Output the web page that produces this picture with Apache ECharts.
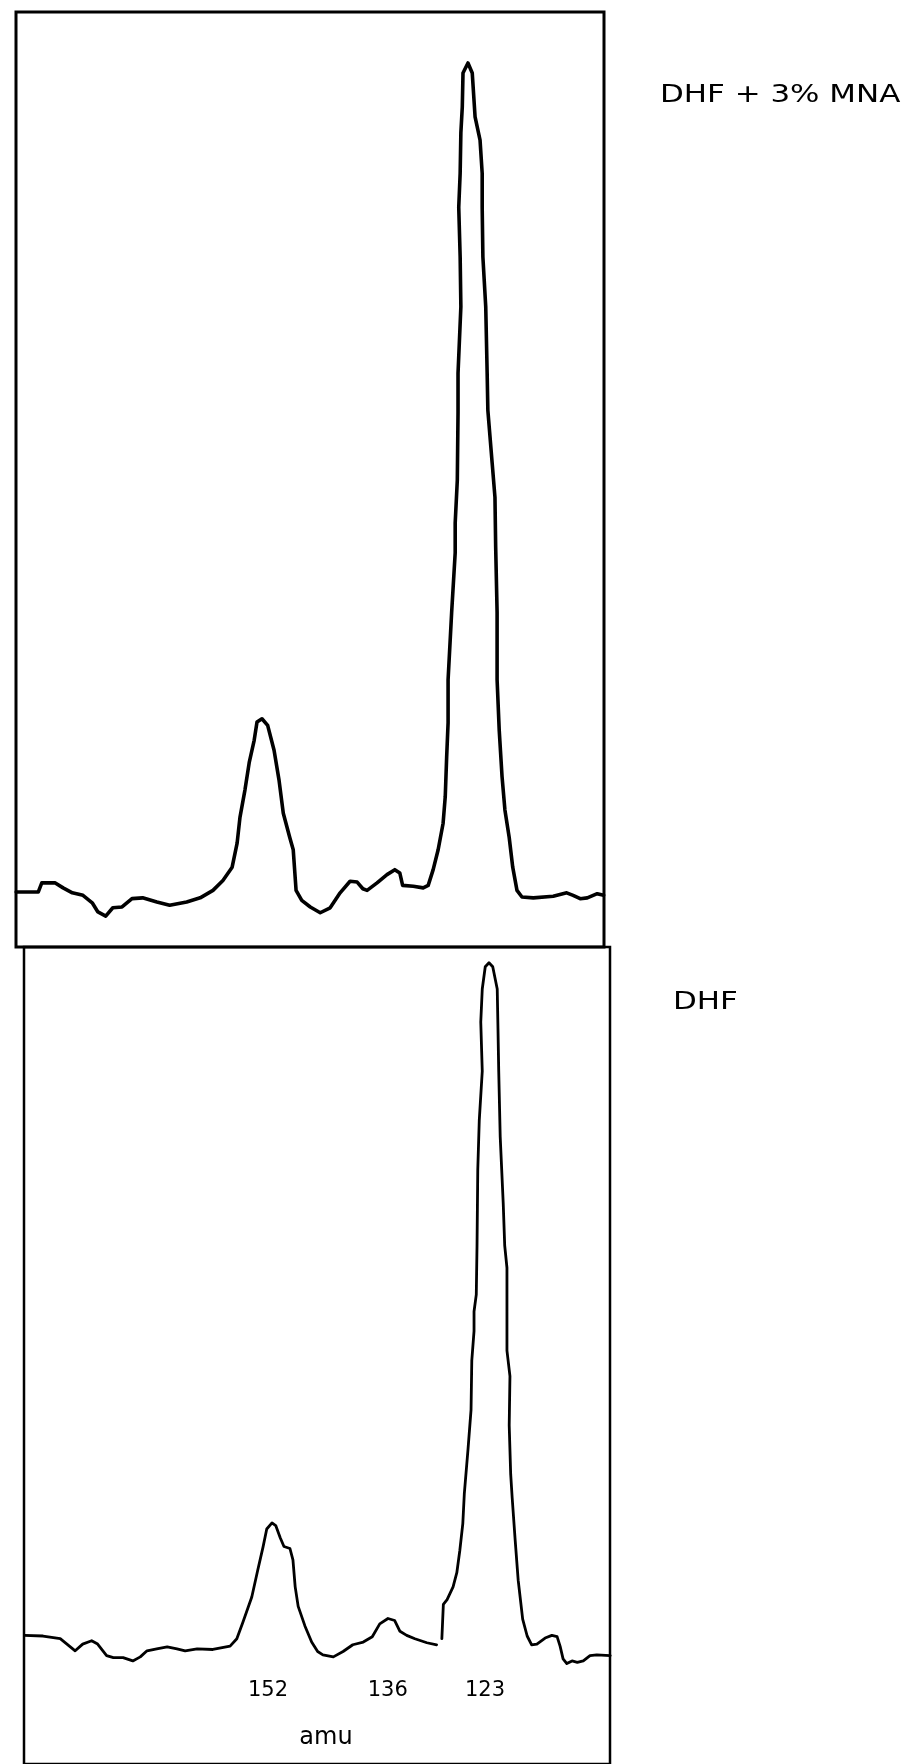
<!DOCTYPE html>
<html>
<head>
<meta charset="utf-8">
<script src="https://cdn.jsdelivr.net/npm/echarts@6/dist/echarts.min.js"></script>
<style>
  html, body { margin: 0; padding: 0; background: #fff; }
  #chart { width: 908px; height: 1764px; }
</style>
</head>
<body>
<div id="chart"></div>
<script>
// Mass spectrum traces: [mass (amu), relative intensity, 123 peak = 100]
// Upper trace: DHF + 3% MNA
const traceMixture = [
  [186.6,0],[183.5,0],[183.0,1.1],[181.1,1.1],[180.0,0.5],[178.7,-0.1],[177.2,-0.4],
  [175.9,-1.3],[175.1,-2.4],[174.0,-2.9],[173.0,-1.9],[171.7,-1.8],[170.3,-0.8],
  [168.8,-0.7],[166.8,-1.2],[165.0,-1.6],[162.6,-1.2],[160.7,-0.7],[158.9,0.2],
  [157.5,1.4],[156.2,3.0],[155.5,5.9],[155.1,9.0],[154.4,12.3],[153.8,15.6],
  [153.1,18.3],[152.7,20.5],[152.0,20.9],[151.2,20.1],[150.3,17.1],[149.6,13.5],
  [149.0,9.5],[148.1,6.6],[147.6,5.1],[147.2,0.2],[146.4,-1.0],[145.2,-1.8],
  [143.8,-2.5],[142.4,-1.9],[141.0,-0.1],[139.6,1.3],[138.6,1.2],[137.8,0.4],
  [137.2,0.2],[135.8,1.1],[134.4,2.1],[133.3,2.7],[132.6,2.3],[132.2,0.8],
  [130.7,0.7],[129.3,0.5],[128.6,0.8],[127.9,2.7],[127.2,5.1],[126.5,8.3],
  [126.2,11.5],[126.0,16.3],[125.8,20.4],[125.8,24.4],[125.8,25.6],[125.3,33.7],
  [124.8,40.9],[124.8,44.5],[124.5,49.7],[124.4,57.8],[124.4,60.6],[124.4,62.6],
  [124.0,70.6],[124.1,76.6],[124.3,82.6],[124.1,86.7],[124.0,91.6],[123.8,94.7],
  [123.7,98.8],[123.0,100],[122.4,98.8],[122.0,93.5],[121.3,90.7],[121.0,86.7],
  [121.0,82.6],[120.9,76.6],[120.5,70.6],[120.3,62.6],[120.2,58.1],[119.6,51.8],
  [119.2,47.6],[119.1,41.6],[118.9,33.7],[118.9,25.6],[118.6,19.5],[118.2,13.9],
  [117.8,9.9],[117.2,6.6],[116.7,3.0],[116.1,0.2],[115.4,-0.6],[113.8,-0.7],
  [111.0,-0.5],[109.1,-0.1],[108.2,-0.4],[107.2,-0.8],[106.2,-0.7],[104.8,-0.2],
  [103.9,-0.4]
];

// Lower trace: DHF (the pen lifts briefly on the rise of the 123 peak)
const tracePure = [
  [185.1,0.1],[182.6,0],[180.3,-0.4],[179.4,-1.2],[178.3,-2.2],[177.3,-1.2],
  [176.1,-0.7],[175.3,-1.2],[174.1,-2.9],[173.2,-3.2],[171.9,-3.2],[170.6,-3.7],
  [169.6,-3.1],[168.7,-2.2],[167.4,-1.9],[166.0,-1.6],[164.7,-1.9],[163.6,-2.2],
  [162.0,-1.9],[159.9,-2.0],[157.6,-1.5],[156.7,-0.4],[155.9,2.0],[154.7,5.8],
  [153.9,9.8],[153.2,13.2],[152.7,15.9],[152.0,16.8],[151.5,16.4],[150.9,14.6],
  [150.4,13.3],[149.6,13.0],[149.2,11.3],[148.9,7.3],[148.5,4.4],[147.6,1.5],
  [146.7,-0.9],[145.9,-2.3],[145.2,-2.8],[143.8,-3.1],[142.5,-2.3],[141.2,-1.3],
  [139.8,-0.9],[138.6,-0.1],[137.6,1.8],[136.5,2.6],[135.6,2.3],[134.9,0.7],
  [134.0,0.1],[132.9,-0.4],[131.3,-1.0],[130.0,-1.3],
  [129.6,null],
  [129.3,-0.4],[129.1,4.7],[128.6,5.4],[127.8,7.3],[127.3,9.4],[126.9,12.7],
  [126.5,16.7],[126.3,21.1],[125.8,27.8],[125.4,33.6],[125.3,40.9],[125.0,45.3],
  [125.0,48.2],[124.7,50.7],[124.6,58.0],[124.5,69.3],[124.3,76.6],[123.9,83.9],
  [124.1,91.2],[123.9,96.1],[123.5,99.4],[123.0,100],[122.5,99.4],[121.9,96.1],
  [121.8,90.2],[121.7,83.9],[121.5,74.1],[121.1,64.3],[120.9,58.0],[120.6,54.7],
  [120.6,48.2],[120.6,42.4],[120.2,38.6],[120.3,31.3],[120.1,24.0],[119.9,20.5],
  [119.5,14.2],[119.1,8.3],[118.5,2.5],[117.9,0],[117.3,-1.3],[116.6,-1.2],
  [115.5,-0.3],[114.6,0.1],[113.9,-0.1],[113.5,-1.5],[113.1,-3.4],[112.6,-4.1],
  [111.9,-3.7],[111.2,-3.9],[110.4,-3.7],[109.5,-2.9],[108.6,-2.8],[106.8,-2.9]
];

const massLabels = [152, 136, 123];
const panelTitles = ['DHF + 3% MNA', 'DHF'];
const massAxisName = 'amu';

// Visible mass window of each panel (mass decreases to the right)
const upperMass = { min: 103.85, max: 186.63 };
const lowerMass = { min: 106.83, max: 185.14 };
const upperIntensity = { min: -6.63, max: 106.15 };
const lowerIntensity = { min: -19.01, max: 102.34 };

const chart = echarts.init(document.getElementById('chart'), null, { renderer: 'canvas' });

const FONT = '"DejaVu Sans", "Liberation Sans", sans-serif';
const frame = { show: true, borderColor: '#000', backgroundColor: 'transparent' };

chart.setOption({
  animation: false,
  backgroundColor: '#fff',
  grid: [
    Object.assign({ left: 16, top: 12, width: 588, height: 935, borderWidth: 3 }, frame),
    Object.assign({ left: 24, top: 947, width: 586, height: 830, borderWidth: 2.5 }, frame),
    { left: 24, top: 1600, width: 586, height: 74, show: false }
  ],
  xAxis: [
    { gridIndex: 0, type: 'value', inverse: true, min: upperMass.min, max: upperMass.max, show: false },
    { gridIndex: 1, type: 'value', inverse: true, min: lowerMass.min, max: lowerMass.max, show: false },
    {
      gridIndex: 2, type: 'value', inverse: true, min: lowerMass.min, max: lowerMass.max,
      position: 'bottom',
      axisLine: { show: false }, axisTick: { show: false }, splitLine: { show: false },
      axisLabel: {
        customValues: massLabels, margin: 6, color: '#000',
        fontSize: 21, fontFamily: FONT, padding: [0, 8, 0, 0]
      },
      name: massAxisName, nameLocation: 'middle', nameGap: 52,
      nameTextStyle: { color: '#000', fontSize: 24, fontFamily: FONT, padding: [0, 0, 0, 18] }
    }
  ],
  yAxis: [
    { gridIndex: 0, type: 'value', min: upperIntensity.min, max: upperIntensity.max, show: false },
    { gridIndex: 1, type: 'value', min: lowerIntensity.min, max: lowerIntensity.max, show: false },
    { gridIndex: 2, type: 'value', min: 0, max: 1, show: false }
  ],
  series: [
    {
      name: panelTitles[0], type: 'line', xAxisIndex: 0, yAxisIndex: 0,
      data: traceMixture, showSymbol: false, symbol: 'none', connectNulls: false,
      lineStyle: { color: '#000', width: 3.6, join: 'round', cap: 'round' }
    },
    {
      name: panelTitles[1], type: 'line', xAxisIndex: 1, yAxisIndex: 1,
      data: tracePure, showSymbol: false, symbol: 'none', connectNulls: false,
      lineStyle: { color: '#000', width: 2.8, join: 'round', cap: 'round' }
    }
  ],
  graphic: [
    {
      type: 'text', x: 660, y: 95, scaleX: 1.237,
      style: { text: panelTitles[0], font: '25px ' + FONT, fill: '#000', align: 'left', verticalAlign: 'middle' }
    },
    {
      type: 'text', x: 673, y: 1002, scaleX: 1.237,
      style: { text: panelTitles[1], font: '25px ' + FONT, fill: '#000', align: 'left', verticalAlign: 'middle' }
    }
  ]
});
</script>
</body>
</html>
